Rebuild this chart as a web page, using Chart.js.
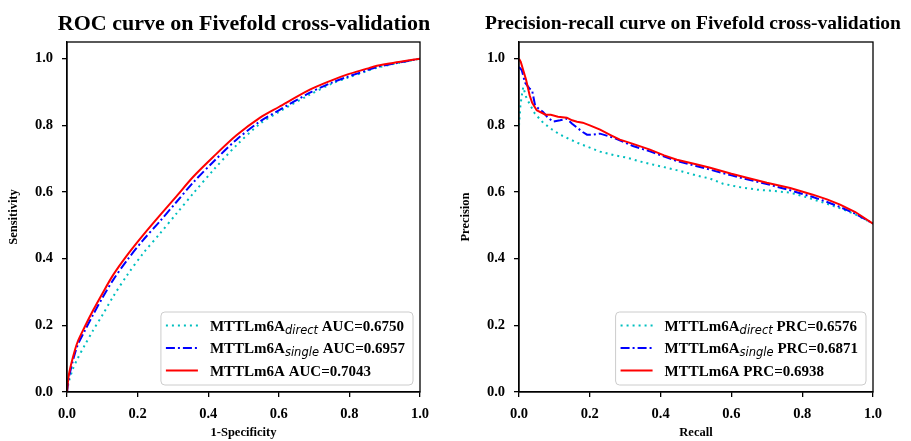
<!DOCTYPE html>
<html>
<head>
<meta charset="utf-8">
<script src="https://cdn.jsdelivr.net/npm/chart.js@4.4.1/dist/chart.umd.min.js"></script>
<style>
  body { margin: 0; background: #fff; }
  #wrap { position: relative; width: 911px; height: 441px; overflow: hidden; }
  canvas { position: absolute; top: 0; }
  .title {
    position: absolute; top: 12px; width: 500px; text-align: center; white-space: nowrap;
    font-family: "Liberation Serif", "Times New Roman", serif; font-weight: bold;
    line-height: 22px; color: #000;
  }
</style>
</head>
<body>
<div id="wrap">
  <canvas id="roc" width="455" height="441" style="left:0"></canvas>
  <canvas id="prc" width="456" height="441" style="left:455px"></canvas>
  <div class="title" style="left:-6px;font-size:22px">ROC curve on Fivefold cross-validation</div>
  <div class="title" style="left:443px;font-size:19.5px">Precision-recall curve on Fivefold cross-validation</div>
</div>
<script>
// --- DATA ---
const tickVals = [0, 0.2, 0.4, 0.6, 0.8, 1.0];

const modelName = 'MTTLm6A';
const modelSubs = ['direct', 'single', ''];
const aucValues = ['0.6750', '0.6957', '0.7043'];
const prcValues = ['0.6576', '0.6871', '0.6938'];

// ROC: false positive rate and sensitivity
const rocFpr = [0, 0.005, 0.017, 0.03, 0.05, 0.074, 0.10, 0.13, 0.17, 0.215, 0.263, 0.31, 0.357, 0.414, 0.48, 0.547, 0.6, 0.688, 0.75, 0.793, 0.85, 0.878, 0.94, 1.0];
const rocDirect = [0, 0.03, 0.07, 0.10, 0.14, 0.185, 0.23, 0.285, 0.35, 0.415, 0.475, 0.535, 0.595, 0.665, 0.74, 0.805, 0.84, 0.892, 0.925, 0.942, 0.963, 0.973, 0.987, 1.0];
const rocSingle = [0, 0.04, 0.095, 0.14, 0.183, 0.232, 0.282, 0.335, 0.395, 0.455, 0.512, 0.57, 0.628, 0.69, 0.757, 0.812, 0.845, 0.898, 0.928, 0.945, 0.965, 0.975, 0.988, 1.0];
const rocFull = [0, 0.05, 0.105, 0.15, 0.195, 0.245, 0.295, 0.35, 0.41, 0.47, 0.53, 0.587, 0.645, 0.705, 0.77, 0.823, 0.855, 0.907, 0.935, 0.952, 0.97, 0.979, 0.99, 1.0];

// Precision-recall, one recall list per curve
const prDirectRecall = [0, 0.004, 0.008, 0.012, 0.02, 0.031, 0.045, 0.068, 0.09, 0.116, 0.14, 0.164, 0.2, 0.229, 0.27, 0.305, 0.34, 0.38, 0.42, 0.463, 0.5, 0.54, 0.576, 0.62, 0.672, 0.72, 0.766, 0.81, 0.86, 0.91, 0.95, 1.0];
const prDirectPrec = [0.80, 0.86, 0.89, 0.915, 0.885, 0.862, 0.835, 0.808, 0.79, 0.772, 0.76, 0.748, 0.733, 0.721, 0.71, 0.703, 0.692, 0.682, 0.672, 0.661, 0.65, 0.64, 0.625, 0.615, 0.607, 0.603, 0.598, 0.585, 0.568, 0.55, 0.533, 0.505];
const prSingleRecall = [0, 0.008, 0.017, 0.03, 0.037, 0.045, 0.055, 0.068, 0.08, 0.096, 0.116, 0.135, 0.15, 0.164, 0.18, 0.192, 0.21, 0.229, 0.266, 0.322, 0.37, 0.446, 0.5, 0.54, 0.6, 0.644, 0.7, 0.766, 0.83, 0.87, 0.907, 0.95, 1.0];
const prSinglePrec = [0.975, 0.965, 0.928, 0.91, 0.905, 0.862, 0.85, 0.84, 0.825, 0.811, 0.815, 0.82, 0.805, 0.793, 0.78, 0.772, 0.772, 0.775, 0.763, 0.738, 0.722, 0.693, 0.678, 0.667, 0.65, 0.638, 0.624, 0.605, 0.585, 0.57, 0.555, 0.535, 0.505];
const prFullRecall = [0, 0.005, 0.012, 0.02, 0.03, 0.037, 0.05, 0.06, 0.075, 0.09, 0.11, 0.135, 0.15, 0.164, 0.18, 0.2, 0.229, 0.26, 0.285, 0.32, 0.37, 0.41, 0.446, 0.5, 0.54, 0.6, 0.644, 0.7, 0.766, 0.83, 0.87, 0.907, 0.95, 1.0];
const prFullPrec = [1.0, 0.99, 0.965, 0.937, 0.89, 0.868, 0.845, 0.84, 0.832, 0.832, 0.826, 0.823, 0.815, 0.811, 0.808, 0.80, 0.787, 0.77, 0.757, 0.745, 0.727, 0.71, 0.697, 0.683, 0.673, 0.655, 0.643, 0.628, 0.612, 0.592, 0.578, 0.562, 0.54, 0.505];

const zip = (xs, ys) => xs.map((x, i) => ({ x, y: ys[i] }));

// --- STYLES ---
const serif = '"Liberation Serif", "Times New Roman", serif';
const lineStyles = [
    { borderColor: '#00bfbf', borderDash: [2, 4], order: 2 },
    { borderColor: '#0000ff', borderDash: [9, 3, 2, 3], order: 1 },
    { borderColor: '#ff0000', borderDash: [], order: 0 }
];

// frame round the plot area
const framePlugin = {
    id: 'frame',
    afterDatasetsDraw(chart) {
        const { ctx, chartArea: a } = chart;
        ctx.save();
        ctx.strokeStyle = '#000';
        ctx.lineWidth = 1.3;
        ctx.strokeRect(a.left, a.top, a.right - a.left, a.bottom - a.top);
        ctx.restore();
    }
};

// legend with subscripted model names, bottom right inside the plot
const legendPlugin = {
    id: 'curveLegend',
    afterDraw(chart, args, opts) {
        const { ctx, chartArea: a } = chart;
        const mainFont = 'bold 15px ' + serif;
        const subFont = 'italic 11.5px "DejaVu Sans", sans-serif';
        const sets = chart.data.datasets;

        ctx.save();
        let textW = 0;
        sets.forEach(ds => {
            ctx.font = mainFont;
            let w = ctx.measureText(modelName).width + ctx.measureText(' ' + ds.metric).width;
            if (ds.sub) { ctx.font = subFont; w += ctx.measureText(ds.sub).width; }
            textW = Math.max(textW, w);
        });

        const sampleW = 32, rowH = 22.5;
        const boxW = 5 + sampleW + 12 + textW + 8;
        const boxH = 73;
        const x0 = a.right - 7 - boxW;
        const y0 = a.bottom - 7 - boxH;

        ctx.beginPath();
        ctx.roundRect(x0, y0, boxW, boxH, 4);
        ctx.fillStyle = 'rgba(255,255,255,0.85)';
        ctx.fill();
        ctx.strokeStyle = '#cccccc';
        ctx.lineWidth = 1;
        ctx.stroke();

        sets.forEach((ds, i) => {
            const cy = y0 + 13.5 + i * rowH;
            ctx.beginPath();
            ctx.setLineDash(ds.borderDash);
            ctx.strokeStyle = ds.borderColor;
            ctx.lineWidth = ds.borderWidth;
            ctx.moveTo(x0 + 5, cy);
            ctx.lineTo(x0 + 5 + sampleW, cy);
            ctx.stroke();
            ctx.setLineDash([]);

            let tx = x0 + 5 + sampleW + 12;
            const base = cy + 5;
            ctx.fillStyle = '#000';
            ctx.textBaseline = 'alphabetic';
            ctx.textAlign = 'left';
            ctx.font = mainFont;
            ctx.fillText(modelName, tx, base);
            tx += ctx.measureText(modelName).width;
            if (ds.sub) {
                ctx.font = subFont;
                ctx.fillText(ds.sub, tx, base + 3);
                tx += ctx.measureText(ds.sub).width;
            }
            ctx.font = mainFont;
            ctx.fillText(' ' + ds.metric, tx, base);
        });
        ctx.restore();
    }
};

function makeAxis(pos, title, titlePad, size) {
    return {
        type: 'linear',
        position: pos,
        min: 0,
        max: pos === 'left' ? 1.05 : 1.0,
        afterBuildTicks: s => { s.ticks = tickVals.map(v => ({ value: v })); },
        afterFit: s => {
            if (pos === 'left') s.width = size; else s.height = size;
        },
        ticks: {
            callback: v => v.toFixed(1),
            color: '#000',
            font: { family: serif, size: 14.5, weight: 'bold' },
            padding: 9,
            maxRotation: 0
        },
        grid: { drawOnChartArea: false, tickLength: 5, color: '#000', lineWidth: 1.3 },
        border: { color: '#000', width: 1.3 },
        title: {
            display: true,
            text: title,
            color: '#000',
            font: { family: serif, size: 12.5, weight: 'bold' },
            padding: titlePad
        }
    };
}

function makeChart(id, curves, metrics, xTitle, yTitle, yWidth, yPad, rightPad, tension) {
    const ctx = document.getElementById(id).getContext('2d');
    return new Chart(ctx, {
        type: 'line',
        data: {
            datasets: curves.map((pts, i) => ({
                data: pts,
                sub: modelSubs[i],
                metric: metrics[i],
                borderWidth: 2,
                pointRadius: 0,
                fill: false,
                tension: tension,
                ...lineStyles[i]
            }))
        },
        options: {
            responsive: false,
            animation: false,
            events: [],
            parsing: false,
            layout: { padding: { top: 42, right: rightPad, bottom: 0, left: 0 } },
            plugins: { legend: { display: false }, tooltip: { enabled: false } },
            scales: {
                x: makeAxis('bottom', xTitle, { top: 0, bottom: 1 }, 49),
                y: makeAxis('left', yTitle, { top: yPad, bottom: 0 }, yWidth)
            }
        },
        plugins: [framePlugin, legendPlugin]
    });
}

makeChart('roc',
    [zip(rocFpr, rocDirect), zip(rocFpr, rocSingle), zip(rocFpr, rocFull)],
    aucValues.map(v => 'AUC=' + v),
    '1-Specificity', 'Sensitivity', 67, 6, 35, 0.3);

makeChart('prc',
    [zip(prDirectRecall, prDirectPrec), zip(prSingleRecall, prSinglePrec), zip(prFullRecall, prFullPrec)],
    prcValues.map(v => 'PRC=' + v),
    'Recall', 'Precision', 64, 3, 38, 0);
</script>
</body>
</html>
